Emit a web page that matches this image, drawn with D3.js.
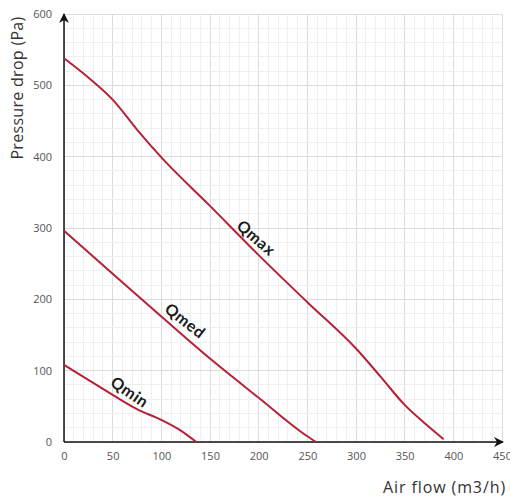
<!DOCTYPE html>
<html>
<head>
<meta charset="utf-8">
<script src="https://cdn.jsdelivr.net/npm/d3@7"></script>
<style>
  html, body { margin: 0; padding: 0; background: #fff; }
  svg { display: block; }
</style>
</head>
<body>
<svg id="chart" width="510" height="499"></svg>
<script>
// ---- data ----
const xTicks = [0, 50, 100, 150, 200, 250, 300, 350, 400, 450];
const yTicks = [0, 100, 200, 300, 400, 500, 600];
const seriesNames = ["Qmax", "Qmed", "Qmin"];
const qmaxFlow     = [0, 25, 50, 75, 100, 150, 200, 250, 300, 325, 350, 370, 390];
const qmaxPressure = [538, 511, 480, 438, 399, 331, 262, 196, 131, 92, 52, 27, 4];
const qmedFlow     = [0, 50, 100, 150, 200, 250, 259];
const qmedPressure = [296, 236, 176, 117, 62, 8, 0];
const qminFlow     = [0, 25, 50, 75, 100, 120, 136];
const qminPressure = [108, 87, 66, 46, 31, 16, 0];
const xLabel = "Air flow (m3/h)";
const yLabel = "Pressure drop (Pa)";

// ---- layout ----
const svg = d3.select("#chart");
const x = d3.scaleLinear().domain([0, 450]).range([64, 502]);
const y = d3.scaleLinear().domain([0, 600]).range([442, 14]);
const lineColor = "#b52238";

// grid
const grid = svg.append("g");
grid.selectAll("line.vminor").data(d3.range(0, 451, 10)).join("line")
  .attr("x1", d => x(d)).attr("x2", d => x(d))
  .attr("y1", y(0)).attr("y2", y(600))
  .attr("stroke", d => d % 50 === 0 ? "#dcdcdc" : "#efefef")
  .attr("stroke-width", 1).attr("shape-rendering", "crispEdges");
grid.selectAll("line.hminor").data(d3.range(0, 601, 20)).join("line")
  .attr("y1", d => y(d)).attr("y2", d => y(d))
  .attr("x1", x(0)).attr("x2", x(450))
  .attr("stroke", d => d % 100 === 0 ? "#dcdcdc" : "#efefef")
  .attr("stroke-width", 1).attr("shape-rendering", "crispEdges");

// axes via d3 axis for tick labels
const xAxis = svg.append("g").attr("transform", `translate(0,${y(0)})`)
  .call(d3.axisBottom(x).tickValues(xTicks).tickSize(0).tickPadding(10));
const yAxis = svg.append("g").attr("transform", `translate(${x(0) - 12},0)`)
  .call(d3.axisLeft(y).tickValues(yTicks).tickSize(0).tickPadding(0));
[xAxis, yAxis].forEach(a => {
  a.select(".domain").remove();
  a.selectAll("text").attr("fill", "#555").style("font-family", "'Open Sans', sans-serif").style("font-size", "11px");
});

// axis lines with arrows
svg.append("defs").append("marker")
  .attr("id", "arrow").attr("viewBox", "0 0 10 10").attr("refX", 9).attr("refY", 5)
  .attr("markerWidth", 10).attr("markerHeight", 10).attr("markerUnits", "userSpaceOnUse")
  .attr("orient", "auto")
  .append("path").attr("d", "M0,0 L10,5 L0,10 L3,5 Z").attr("fill", "#111");
svg.append("line").attr("x1", x(0)).attr("x2", x(450) + 1).attr("y1", y(0)).attr("y2", y(0))
  .attr("stroke", "#111").attr("stroke-width", 1.5).attr("marker-end", "url(#arrow)");
svg.append("line").attr("x1", x(0)).attr("x2", x(0)).attr("y1", y(0)).attr("y2", y(600))
  .attr("stroke", "#111").attr("stroke-width", 1.5).attr("marker-end", "url(#arrow)");

// curves
const series = [
  {name: seriesNames[0], fx: qmaxFlow, py: qmaxPressure},
  {name: seriesNames[1], fx: qmedFlow, py: qmedPressure},
  {name: seriesNames[2], fx: qminFlow, py: qminPressure}
];
const line = d3.line().x(d => x(d[0])).y(d => y(d[1])).curve(d3.curveMonotoneX);
series.forEach(s => {
  svg.append("path")
    .datum(s.fx.map((f, i) => [f, s.py[i]]))
    .attr("d", line).attr("fill", "none")
    .attr("stroke", lineColor).attr("stroke-width", 2);
});

// curve labels (positioned in data units)
const labelPos = [
  {name: seriesNames[0], fx: 198, p: 287, angle: 41},
  {name: seriesNames[1], fx: 125, p: 171, angle: 38},
  {name: seriesNames[2], fx: 68,  p: 71,  angle: 34}
];
labelPos.forEach(l => {
  svg.append("text")
    .attr("transform", `translate(${x(l.fx)},${y(l.p)}) rotate(${l.angle})`)
    .attr("text-anchor", "middle").attr("dominant-baseline", "central")
    .style("font-family", "Lato, 'Open Sans', sans-serif").style("font-weight", "bold")
    .style("font-size", "16px").style("letter-spacing", "0.6px").attr("fill", "#1a1a1a")
    .text(l.name);
});

// axis titles
svg.append("text")
  .attr("x", 506).attr("y", 493).attr("text-anchor", "end")
  .style("font-family", "'Open Sans', sans-serif").style("font-size", "16px")
  .style("letter-spacing", "0.9px").attr("fill", "#333")
  .text(xLabel);
svg.append("text")
  .attr("transform", `translate(23,88) rotate(-90)`).attr("text-anchor", "middle")
  .style("font-family", "'Open Sans', sans-serif").style("font-size", "16px")
  .style("letter-spacing", "0.3px").attr("fill", "#333")
  .text(yLabel);
</script>
</body>
</html>
